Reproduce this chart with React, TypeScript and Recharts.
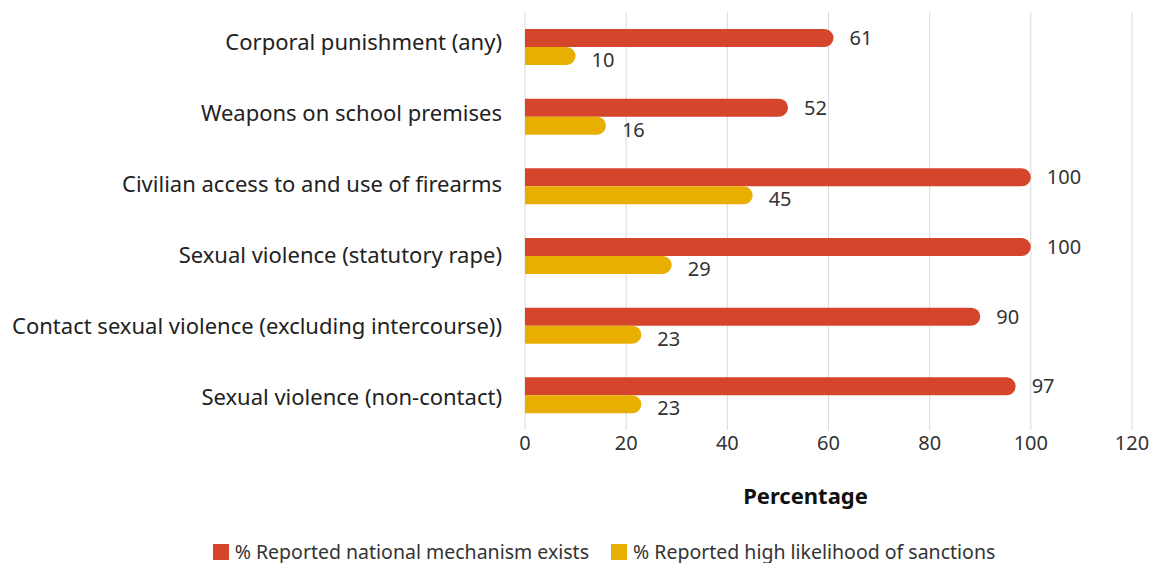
import { BarChart, Bar, XAxis, YAxis, CartesianGrid, Legend, LabelList } from 'recharts';

const categories = [
  'Corporal punishment (any)',
  'Weapons on school premises',
  'Civilian access to and use of firearms',
  'Sexual violence (statutory rape)',
  'Contact sexual violence (excluding intercourse))',
  'Sexual violence (non-contact)',
];
const mechanismExists = [61, 52, 100, 100, 90, 97];
const sanctionsLikely = [10, 16, 45, 29, 23, 23];
const xTicks = [0, 20, 40, 60, 80, 100, 120];

const data = categories.map((name, i) => ({
  name,
  mechanism: mechanismExists[i],
  sanctions: sanctionsLikely[i],
}));

const FONT = '"Noto Sans", Roboto, sans-serif';
const RED = '#D5452C';
const YELLOW = '#E8AF00';

const legendItems = [
  { label: '% Reported national mechanism exists', color: RED },
  { label: '% Reported high likelihood of sanctions', color: YELLOW },
];

const LegendContent = () => (
  <div
    style={{
      display: 'flex',
      justifyContent: 'center',
      gap: 22,
      fontSize: 19.5,
      lineHeight: 1,
      height: 22,
      color: '#333',
      fontFamily: FONT,
      marginLeft: 76,
      position: 'relative',
      top: 0,
    }}
  >
    {legendItems.map((item) => (
      <div key={item.label} style={{ display: 'flex', alignItems: 'center', gap: 6 }}>
        <div style={{ width: 16, height: 16, backgroundColor: item.color }} />
        <span>{item.label}</span>
      </div>
    ))}
  </div>
);

// category labels sit a touch high at the top, drifting down toward the bottom
const CategoryTick = ({ x, y, payload, index }: any) => (
  <text x={x} y={y} dy={-6 + index * 1.4} textAnchor="end" dominantBaseline="central" fill="#222" fontSize={22} fontFamily={FONT}>
    {payload.value}
  </text>
);

export default function App() {
  return (
    <div style={{ position: 'absolute', left: 0, top: 0, fontFamily: FONT }}>
      <BarChart
        width={1155}
        height={563}
        data={data}
        layout="vertical"
        margin={{ top: 12, right: 23, left: 0, bottom: 0 }}
        barCategoryGap="24%"
        barGap={0}
      >
        <CartesianGrid horizontal={false} stroke="#d9d9d9" />
        <XAxis
          type="number"
          domain={[0, 120]}
          ticks={xTicks}
          axisLine={false}
          tickLine={false}
          tick={{ fill: '#333', fontSize: 20, fontFamily: FONT }}
          tickMargin={0}
          height={111}
          label={{
            value: 'Percentage',
            position: 'insideBottom',
            offset: 37,
            dx: -23,
            style: { fill: '#111', fontSize: 22, fontWeight: 700, fontFamily: FONT },
          }}
        />
        <YAxis
          type="category"
          dataKey="name"
          width={525}
          axisLine={false}
          tickLine={false}
          tickMargin={17}
          tick={<CategoryTick />}
        />
        <Legend verticalAlign="bottom" content={<LegendContent />} />
        <Bar
          dataKey="mechanism"
          name="% Reported national mechanism exists"
          fill={RED}
          barSize={18}
          radius={[0, 9, 9, 0]}
          isAnimationActive={false}
        >
          <LabelList dataKey="mechanism" position="right" offset={16} fill="#333" fontSize={20} fontFamily={FONT} />
        </Bar>
        <Bar
          dataKey="sanctions"
          name="% Reported high likelihood of sanctions"
          fill={YELLOW}
          barSize={18}
          radius={[0, 9, 9, 0]}
          isAnimationActive={false}
        >
          <LabelList dataKey="sanctions" position="right" offset={16} fill="#333" fontSize={20} fontFamily={FONT} dy={4} />
        </Bar>
      </BarChart>
    </div>
  );
}
